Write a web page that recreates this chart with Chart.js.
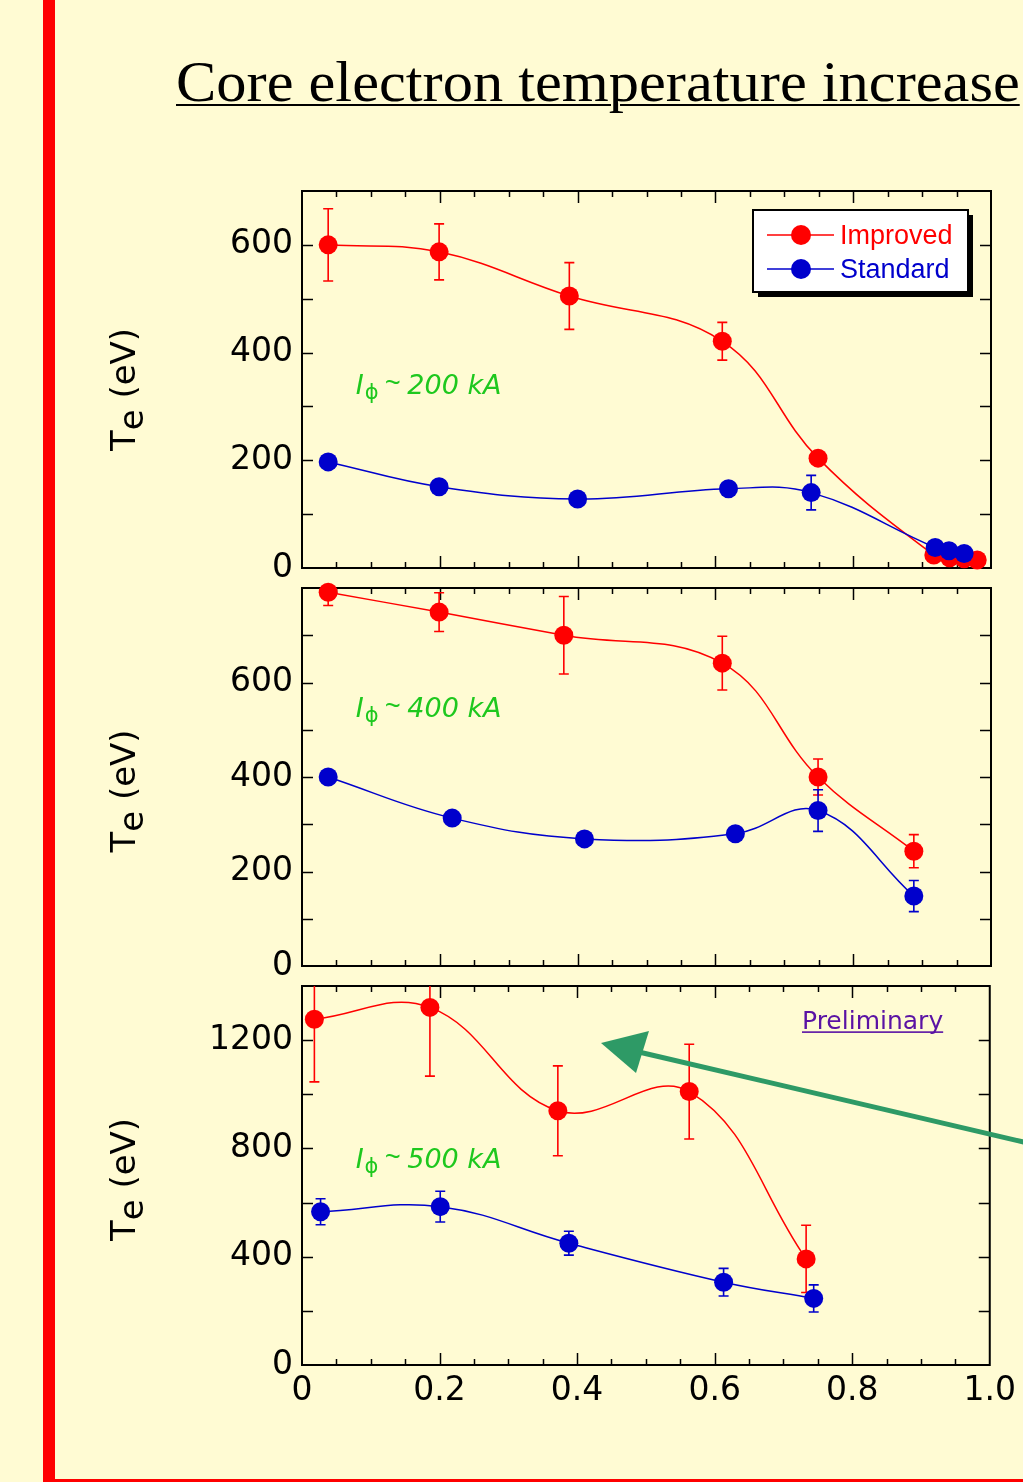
<!DOCTYPE html>
<html>
<head>
<meta charset="utf-8">
<script src="https://cdn.jsdelivr.net/npm/chart.js@4.4.1/dist/chart.umd.min.js"></script>
<style>
  html, body { margin: 0; padding: 0; background: #fffbd3; }
  #lamina { position: relative; width: 1023px; height: 1482px; overflow: hidden; background: #fffbd3; }
  #barra { position: absolute; left: 43px; top: 0; width: 12px; height: 1482px; background: #ff0000; }
  #base { position: absolute; left: 43px; top: 1479px; width: 990px; height: 3px; background: #ff0000; }
  #titulo { position: absolute; left: 176px; top: 53px; font-family: "Liberation Serif", serif; font-size: 57px;
            line-height: 57px; white-space: nowrap; color: #000; text-decoration: underline;
            text-decoration-thickness: 2px; text-underline-offset: 3px; transform: scaleX(1.06); transform-origin: left top; }
  canvas { position: absolute; }
  #flecha { position: absolute; left: 0; top: 0; pointer-events: none; }
</style>
</head>
<body>
<div id="lamina">
  <div id="barra"></div>
  <div id="base"></div>
  <div id="titulo">Core electron temperature increase</div>
  <canvas id="panel200" width="963" height="447" style="left:60px; top:156px"></canvas>
  <canvas id="panel400" width="963" height="448" style="left:60px; top:553px"></canvas>
  <canvas id="panel500" width="963" height="474" style="left:60px; top:951px"></canvas>
  <svg id="flecha" width="1023" height="1482">
    <line x1="1030" y1="1143.5" x2="641" y2="1052.5" stroke="#2e9a66" stroke-width="5"/>
    <polygon points="601,1043 649,1031 636,1073" fill="#2e9a66"/>
  </svg>
</div>
<script>
// Datos: rho (x) y Te en eV (y), con barras de error
// Ip ~ 200 kA
const rhoMej200 = [0.038, 0.199, 0.388, 0.610, 0.749, 0.917, 0.940, 0.961, 0.980];
const teMej200  = [600, 587, 505, 421, 204, 24, 19, 17, 15];
const errMej200 = [67, 52, 62, 35, 0, 0, 0, 0, 0];
const rhoEst200 = [0.038, 0.199, 0.400, 0.619, 0.739, 0.919, 0.939, 0.961];
const teEst200  = [197, 151, 128, 147, 140, 38, 32, 27];
const errEst200 = [0, 0, 0, 0, 32, 0, 0, 0];

// Ip ~ 400 kA
const rhoMej400 = [0.038, 0.199, 0.380, 0.610, 0.749, 0.888];
const teMej400  = [791, 749, 700, 641, 400, 243];
const errMej400 = [28, 41, 82, 57, 38, 35];
const rhoEst400 = [0.038, 0.218, 0.410, 0.629, 0.749, 0.888];
const teEst400  = [400, 313, 269, 280, 329, 148];
const errEst400 = [0, 0, 0, 0, 44, 33];

// Ip ~ 500 kA
const rhoMej500 = [0.018, 0.186, 0.372, 0.563, 0.733];
const teMej500  = [1277, 1321, 939, 1010, 392];
const errMej500 = [231, 254, 166, 175, 124];
const rhoEst500 = [0.027, 0.201, 0.388, 0.613, 0.744];
const teEst500  = [566, 585, 450, 306, 246];
const errEst500 = [48, 57, 44, 51, 50];

// Ejes
const xValores   = [0, 0.2, 0.4, 0.6, 0.8, 1.0];
const xEtiquetas = ["0", "0.2", "0.4", "0.6", "0.8", "1.0"];
const xMarcas    = [0.05, 0.1, 0.15, 0.2, 0.25, 0.3, 0.35, 0.4, 0.45, 0.5, 0.55, 0.6, 0.65, 0.7, 0.75, 0.8, 0.85, 0.9, 0.95];
const xMayores   = [0.2, 0.4, 0.6, 0.8];
const yEtiq200 = [0, 200, 400, 600];
const yMarcas200 = [100, 200, 300, 400, 500, 600];
const yEtiq400 = [0, 200, 400, 600];
const yMarcas400 = [100, 200, 300, 400, 500, 600, 700];
const yEtiq500 = [0, 400, 800, 1200];
const yMarcas500 = [200, 400, 600, 800, 1000, 1200];

const ROJO = "#ff0000";
const AZUL = "#0000cc";
const VERDE = "#1ec81e";

function puntos(xs, ys) {
  return xs.map((x, i) => ({ x: x, y: ys[i] }));
}

// Marco con marcas hacia adentro
const marco = {
  id: "marco",
  beforeDatasetsDraw(chart, args, opts) {
    const { ctx, chartArea: a, scales: { x, y } } = chart;
    ctx.save();
    ctx.strokeStyle = "#000";
    ctx.lineWidth = 1.5;
    ctx.beginPath();
    xMarcas.forEach(v => {
      const px = Math.round(x.getPixelForValue(v)) + 0.5;
      const l = xMayores.includes(v) ? 12 : 6;
      ctx.moveTo(px, a.bottom); ctx.lineTo(px, a.bottom - l);
      ctx.moveTo(px, a.top); ctx.lineTo(px, a.top + l);
    });
    opts.marcasY.forEach(v => {
      const py = Math.round(y.getPixelForValue(v)) + 0.5;
      ctx.moveTo(a.left, py); ctx.lineTo(a.left + 11, py);
      ctx.moveTo(a.right, py); ctx.lineTo(a.right - 11, py);
    });
    ctx.stroke();
    ctx.lineWidth = 2;
    ctx.strokeRect(a.left, a.top, a.width, a.height);
    ctx.restore();
  }
};

// Barras de error (recortadas al area del grafico)
const barrasError = {
  id: "barrasError",
  beforeDatasetsDraw(chart) {
    const { ctx, chartArea: a, scales: { x, y } } = chart;
    ctx.save();
    ctx.beginPath();
    ctx.rect(a.left, a.top, a.width, a.height);
    ctx.clip();
    chart.data.datasets.forEach(ds => {
      ctx.strokeStyle = ds.borderColor;
      ctx.lineWidth = 1.6;
      ds.data.forEach((p, i) => {
        const e = ds.errores[i];
        if (!e) return;
        const px = x.getPixelForValue(p.x);
        const y1 = y.getPixelForValue(p.y + e);
        const y2 = y.getPixelForValue(p.y - e);
        ctx.beginPath();
        ctx.moveTo(px, y1); ctx.lineTo(px, y2);
        ctx.moveTo(px - 5, y1); ctx.lineTo(px + 5, y1);
        ctx.moveTo(px - 5, y2); ctx.lineTo(px + 5, y2);
        ctx.stroke();
      });
    });
    ctx.restore();
  }
};

// Titulo del eje Y: "Te (eV)" con subindice
const tituloY = {
  id: "tituloY",
  afterDraw(chart, args, opts) {
    const { ctx, chartArea: a } = chart;
    ctx.save();
    ctx.translate(75, (a.top + a.bottom) / 2 + opts.dy);
    ctx.rotate(-Math.PI / 2);
    ctx.font = '34px "DejaVu Sans"';
    ctx.fillStyle = "#000";
    ctx.textBaseline = "alphabetic";
    const wT = ctx.measureText("T").width;
    const we = ctx.measureText("e").width;
    const wr = ctx.measureText(" (eV)").width;
    const x0 = -(wT + we + wr) / 2;
    ctx.fillText("T", x0, 0);
    ctx.fillText("e", x0 + wT, 8);
    ctx.fillText(" (eV)", x0 + wT + we, 0);
    ctx.restore();
  }
};

// Anotacion de corriente de plasma y "Preliminary"
const anotaciones = {
  id: "anotaciones",
  afterDraw(chart, args, opts) {
    const { ctx, scales: { x, y } } = chart;
    ctx.save();
    ctx.textBaseline = "alphabetic";
    let px = x.getPixelForValue(opts.x);
    const py = y.getPixelForValue(opts.y);
    ctx.fillStyle = VERDE;
    ctx.font = 'italic 27px "DejaVu Sans"';
    ctx.fillText("I", px, py);
    px += ctx.measureText("I").width + 1;
    ctx.font = '21px "DejaVu Sans"';
    ctx.fillText("\u03d5", px, py + 5);
    px += ctx.measureText("\u03d5").width + 6;
    ctx.font = 'italic 27px "Liberation Sans"';
    ctx.fillText("~", px, py - 2);
    px += ctx.measureText("~").width + 7;
    ctx.font = 'italic 27px "DejaVu Sans"';
    ctx.fillText(opts.texto, px, py);

    if (opts.preliminar) {
      const qx = x.getPixelForValue(opts.preliminar.x);
      const qy = y.getPixelForValue(opts.preliminar.y);
      ctx.fillStyle = "#5a12a4";
      ctx.font = '25px "DejaVu Sans"';
      ctx.fillText("Preliminary", qx, qy);
      const w = ctx.measureText("Preliminary").width;
      ctx.fillRect(qx, qy + 2, w, 1.6);
    }
    ctx.restore();
  }
};

// Leyenda con sombra
const leyenda = {
  id: "leyenda",
  afterDraw(chart, args, opts) {
    if (!opts.mostrar) return;
    const { ctx, chartArea: a } = chart;
    const w = 215, h = 82;
    const x0 = a.right - 23 - w, y0 = a.top + 19;
    ctx.save();
    ctx.fillStyle = "#000";
    ctx.fillRect(x0 + 5, y0 + 5, w, h);
    ctx.fillStyle = "#fff";
    ctx.fillRect(x0, y0, w, h);
    ctx.lineWidth = 2;
    ctx.strokeStyle = "#000";
    ctx.strokeRect(x0, y0, w, h);
    chart.data.datasets.forEach((ds, i) => {
      const yc = y0 + 25 + i * 34;
      ctx.strokeStyle = ds.borderColor;
      ctx.lineWidth = 1.5;
      ctx.beginPath();
      ctx.moveTo(x0 + 14, yc); ctx.lineTo(x0 + 81, yc);
      ctx.stroke();
      ctx.fillStyle = ds.borderColor;
      ctx.beginPath();
      ctx.arc(x0 + 48, yc, 10, 0, Math.PI * 2);
      ctx.fill();
      ctx.font = '27px "Liberation Sans"';
      ctx.fillText(ds.label, x0 + 87, yc + 9);
    });
    ctx.restore();
  }
};

function serie(label, color, xs, ys, errs, orden) {
  return {
    label: label,
    data: puntos(xs, ys),
    errores: errs,
    borderColor: color,
    backgroundColor: color,
    pointBackgroundColor: color,
    pointBorderWidth: 0,
    pointRadius: 9.5,
    borderWidth: 1.5,
    showLine: true,
    tension: 0.4,
    clip: false,
    order: orden
  };
}

function crearPanel(id, cfg) {
  const fuente = { family: "DejaVu Sans", size: 33 };
  return new Chart(document.getElementById(id), {
    type: "scatter",
    data: {
      datasets: [
        serie("Improved", ROJO, cfg.rhoMej, cfg.teMej, cfg.errMej, 2),
        serie("Standard", AZUL, cfg.rhoEst, cfg.teEst, cfg.errEst, 1)
      ]
    },
    options: {
      responsive: false,
      animation: false,
      devicePixelRatio: 1,
      layout: { padding: { top: 35, right: 32, left: 0, bottom: 0 } },
      plugins: {
        legend: { display: false },
        tooltip: { enabled: false },
        marco: { marcasY: cfg.marcasY },
        tituloY: { dy: cfg.dy },
        anotaciones: { x: 0.078, y: cfg.yTexto, texto: cfg.texto, preliminar: cfg.preliminar },
        leyenda: { mostrar: cfg.leyenda }
      },
      scales: {
        x: {
          type: "linear",
          min: 0,
          max: 1,
          afterBuildTicks: s => { s.ticks = xValores.map(v => ({ value: v })); },
          afterFit: s => { s.height = cfg.conEtiquetasX ? 60 : 35; },
          grid: { display: false, drawTicks: false },
          border: { display: false },
          ticks: {
            display: cfg.conEtiquetasX,
            font: fuente,
            color: "#000",
            padding: 7,
            maxRotation: 0,
            autoSkip: false,
            callback: (v, i) => xEtiquetas[i]
          }
        },
        y: {
          min: 0,
          max: cfg.yMax,
          afterBuildTicks: s => { s.ticks = cfg.etiqY.map(v => ({ value: v })); },
          afterFit: s => { s.width = 242; },
          grid: { display: false, drawTicks: false },
          border: { display: false },
          ticks: { font: fuente, color: "#000", padding: 9, callback: v => String(v) }
        }
      }
    },
    plugins: [marco, barrasError, tituloY, anotaciones, leyenda]
  });
}

crearPanel("panel200", {
  rhoMej: rhoMej200, teMej: teMej200, errMej: errMej200,
  rhoEst: rhoEst200, teEst: teEst200, errEst: errEst200,
  yMax: 700, etiqY: yEtiq200, marcasY: yMarcas200,
  texto: "200 kA", yTexto: 323, dy: 10, leyenda: true, conEtiquetasX: false
});

crearPanel("panel400", {
  rhoMej: rhoMej400, teMej: teMej400, errMej: errMej400,
  rhoEst: rhoEst400, teEst: teEst400, errEst: errEst400,
  yMax: 800, etiqY: yEtiq400, marcasY: yMarcas400,
  texto: "400 kA", yTexto: 527, dy: 14, leyenda: false, conEtiquetasX: false
});

crearPanel("panel500", {
  rhoMej: rhoMej500, teMej: teMej500, errMej: errMej500,
  rhoEst: rhoEst500, teEst: teEst500, errEst: errEst500,
  yMax: 1400, etiqY: yEtiq500, marcasY: yMarcas500,
  texto: "500 kA", yTexto: 727, dy: 4, leyenda: false, conEtiquetasX: true,
  preliminar: { x: 0.727, y: 1240 }
});
</script>
</body>
</html>
